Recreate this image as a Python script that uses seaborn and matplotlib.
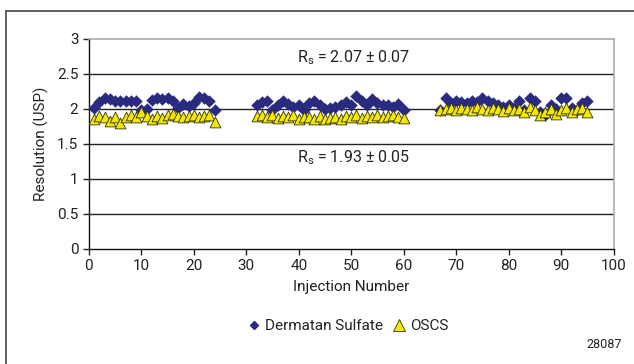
import matplotlib
matplotlib.use("Agg")
import matplotlib.pyplot as plt
from matplotlib.patches import Rectangle
from matplotlib.lines import Line2D
import seaborn as sns
import pandas as pd

sns.set_theme(style="white")
plt.rcParams['font.family'] = ['Roboto', 'DejaVu Sans']

inj_1 = list(range(1, 25))
inj_2 = list(range(32, 61))
inj_3 = list(range(67, 96))

ds_1 = [2.02, 2.10, 2.15, 2.14, 2.12, 2.12, 2.11, 2.12, 2.12, 1.98, 2.00, 2.13,
        2.16, 2.14, 2.15, 2.12, 2.02, 2.07, 2.04, 2.08, 2.17, 2.15, 2.12, 1.98]
oscs_1 = [1.85, 1.90, 1.88, 1.83, 1.88, 1.80, 1.88, 1.92, 1.88, 1.95, 1.90, 1.85,
          1.90, 1.87, 1.92, 1.93, 1.90, 1.88, 1.90, 1.92, 1.88, 1.90, 1.92, 1.82]
ds_2 = [2.05, 2.10, 2.12, 1.98, 2.06, 2.12, 2.07, 2.03, 2.05, 1.98, 2.08, 2.11,
        2.05, 2.00, 2.02, 2.03, 2.06, 2.10, 2.05, 2.18, 2.12, 2.05, 2.14, 2.08,
        2.05, 2.06, 2.03, 2.07, 1.98]
oscs_2 = [1.90, 1.92, 1.88, 1.91, 1.87, 1.90, 1.88, 1.92, 1.86, 1.89, 1.88, 1.86,
          1.90, 1.85, 1.87, 1.88, 1.86, 1.90, 1.88, 1.92, 1.87, 1.90, 1.89, 1.91,
          1.88, 1.90, 1.92, 1.89, 1.87]
ds_3 = [1.98, 2.15, 2.08, 2.12, 2.10, 2.08, 2.12, 2.10, 2.16, 2.12, 2.08, 2.05,
        2.03, 2.06, 2.02, 2.12, 1.98, 2.15, 2.12, 1.95, 1.92, 2.05, 2.00, 2.15,
        2.15, 2.02, 1.98, 2.08, 2.12]
oscs_3 = [1.98, 2.00, 2.02, 1.98, 2.02, 2.00, 1.98, 2.03, 2.00, 1.98, 2.02, 2.00,
          1.97, 2.02, 1.99, 2.00, 1.96, 2.03, 1.98, 1.92, 1.95, 2.00, 1.93, 1.98,
          2.02, 1.96, 2.00, 2.02, 1.95]

series_names = ["Dermatan Sulfate", "OSCS"]
annotations = ["R$_\\mathregular{s}$ = 2.07 ± 0.07", "R$_\\mathregular{s}$ = 1.93 ± 0.05"]
annot_y = [2.74, 1.30]
x_ticks = [0, 10, 20, 30, 40, 50, 60, 70, 80, 90, 100]
y_ticks = [0, 0.5, 1, 1.5, 2, 2.5, 3]
figure_id = "28087"

inj = inj_1 + inj_2 + inj_3
df_ds = pd.DataFrame({"Injection": inj, "Resolution": ds_1 + ds_2 + ds_3})
df_os = pd.DataFrame({"Injection": inj, "Resolution": oscs_1 + oscs_2 + oscs_3})

ds_color = "#2a2a80"
os_color = "#f5e800"
txt_color = "#222222"
fs = 11

fig = plt.figure(figsize=(6.34, 3.64), dpi=100)
ax = fig.add_axes([0.140, 0.316, 0.828, 0.577])

for yv in y_ticks[1:-1]:
    ax.axhline(yv, color="#222222", lw=1.0, zorder=1)

sns.scatterplot(data=df_ds, x="Injection", y="Resolution", ax=ax, marker="D",
                s=36, color=ds_color, edgecolor=ds_color, linewidth=0.3, zorder=3)
sns.scatterplot(data=df_os, x="Injection", y="Resolution", ax=ax, marker="^",
                s=60, color=os_color, edgecolor="#333300", linewidth=0.6, zorder=4)

ax.set_xlim(0, 100)
ax.set_ylim(0, 3)
ax.set_xticks(x_ticks)
ax.set_yticks(y_ticks)
ax.set_yticklabels(["0", "0.5", "1", "1.5", "2", "2.5", "3"])
ax.set_xlabel("Injection Number", fontsize=fs, color=txt_color, labelpad=5)
ax.set_ylabel("Resolution (USP)", fontsize=fs, color=txt_color, labelpad=6)
ax.tick_params(axis="both", which="both", direction="out", length=4, width=1,
               colors=txt_color, labelsize=fs, bottom=True, left=True)
for side in ["left", "bottom"]:
    ax.spines[side].set_color("#111111")
    ax.spines[side].set_linewidth(1.0)
for side in ["top", "right"]:
    ax.spines[side].set_color("#aaaaaa")
    ax.spines[side].set_linewidth(1.2)

for txt, yv in zip(annotations, annot_y):
    ax.text(50.5, yv, txt, ha="center", va="center", fontsize=fs + 0.5, color=txt_color)

handles = [
    Line2D([], [], marker="D", linestyle="none", markersize=4.5, color=ds_color,
           markeredgecolor=ds_color),
    Line2D([], [], marker="^", linestyle="none", markersize=8, color=os_color,
           markeredgecolor="#333300", markeredgewidth=0.6),
]
fig.legend(handles, series_names, loc="center", bbox_to_anchor=(0.548, 0.104), ncol=2,
           frameon=False, fontsize=fs, handletextpad=0.2, columnspacing=0.6,
           handlelength=1.0, labelcolor=txt_color)

fig.text(0.98, 0.035, figure_id, ha="right", va="bottom", fontsize=9, color=txt_color)

fig.patches.append(Rectangle((6 / 634, -0.05), 1.2, 1 - 11 / 364 + 0.05,
                             transform=fig.transFigure, fill=False,
                             edgecolor="#444444", lw=1.2))

fig.savefig("out.png", dpi=100)
